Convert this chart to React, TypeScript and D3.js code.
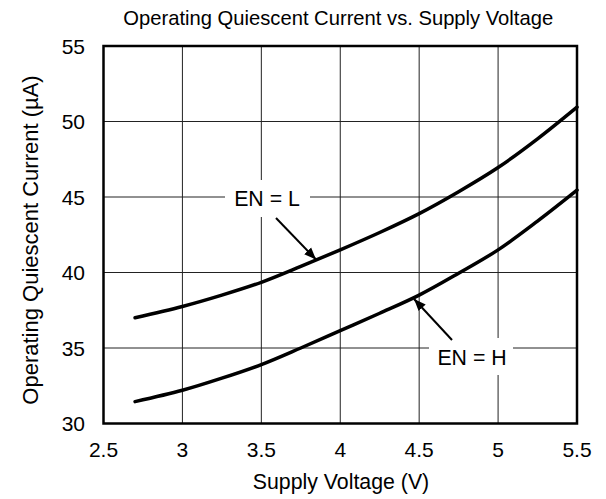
import React from "react";
import * as d3 from "d3";

const voltage = [2.7, 3.0, 3.25, 3.5, 3.75, 4.0, 4.25, 4.5, 4.75, 5.0, 5.25, 5.5];
const enLow = [37.0, 37.75, 38.5, 39.35, 40.4, 41.5, 42.65, 43.9, 45.35, 46.95, 48.85, 50.95];
const enHigh = [31.45, 32.2, 33.0, 33.9, 35.0, 36.15, 37.3, 38.5, 39.95, 41.5, 43.4, 45.45];
const xTicks = [2.5, 3, 3.5, 4, 4.5, 5, 5.5];
const yTicks = [30, 35, 40, 45, 50, 55];

const W = 606, H = 499;
const M = { left: 103.5, right: 29, top: 46, bottom: 75.5 };
const FONT = "Arial, 'Liberation Sans', sans-serif";

export default function App() {
  const x = d3.scaleLinear().domain([2.5, 5.5]).range([M.left, W - M.right]);
  const y = d3.scaleLinear().domain([30, 55]).range([H - M.bottom, M.top]);
  const line = d3.line<number>().x((_, i) => x(voltage[i])).y((d) => y(d)).curve(d3.curveCatmullRom);

  const annotations = [
    { text: "EN = L", tx: 267, ty: 206, box: [225, 180, 85, 37], from: [276, 218], to: [316, 259.5] },
    { text: "EN = H", tx: 472, ty: 365, box: [429, 338, 84, 37], from: [452, 340], to: [414, 299] },
  ];

  return (
    <svg width={W} height={H} style={{ position: "absolute", left: 0, top: 0 }} fontFamily={FONT}>
      <defs>
        <marker id="ah" viewBox="0 0 10 10" refX="10" refY="5" markerWidth="6" markerHeight="6" markerUnits="strokeWidth" orient="auto">
          <path d="M0,1 L10,5 L0,9 Z" fill="#000" />
        </marker>
      </defs>
      <rect width={W} height={H} fill="#fff" />
      <text x={x(4) - 2} y={25} textAnchor="middle" fontSize={20.2}>
        Operating Quiescent Current vs. Supply Voltage
      </text>
      {xTicks.slice(1, -1).map((t) => (
        <line key={"gx" + t} x1={x(t)} x2={x(t)} y1={y(30)} y2={y(55)} stroke="#222" strokeWidth={1} />
      ))}
      {yTicks.slice(1, -1).map((t) => (
        <line key={"gy" + t} x1={x(2.5)} x2={x(5.5)} y1={y(t)} y2={y(t)} stroke="#222" strokeWidth={1} />
      ))}
      {annotations.map((a) => (
        <rect key={"b" + a.text} x={a.box[0]} y={a.box[1]} width={a.box[2]} height={a.box[3]} fill="#fff" />
      ))}
      <path d={line(enLow) || ""} fill="none" stroke="#000" strokeWidth={3.5} strokeLinecap="round" />
      <path d={line(enHigh) || ""} fill="none" stroke="#000" strokeWidth={3.5} strokeLinecap="round" />
      <rect x={x(2.5)} y={y(55)} width={x(5.5) - x(2.5)} height={y(30) - y(55)} fill="none" stroke="#000" strokeWidth={2.5} />
      {annotations.map((a) => (
        <g key={a.text}>
          <text x={a.tx} y={a.ty} textAnchor="middle" fontSize={21.3}>{a.text}</text>
          <line x1={a.from[0]} y1={a.from[1]} x2={a.to[0]} y2={a.to[1]} stroke="#000" strokeWidth={2} markerEnd="url(#ah)" />
        </g>
      ))}
      {yTicks.map((t) => (
        <text key={"ty" + t} x={85} y={y(t)} dy="0.36em" textAnchor="end" fontSize={21}>{t}</text>
      ))}
      {xTicks.map((t) => (
        <text key={"tx" + t} x={x(t)} y={457} textAnchor="middle" fontSize={21}>{t}</text>
      ))}
      <text x={341} y={489} textAnchor="middle" fontSize={21.3}>Supply Voltage (V)</text>
      <text transform="translate(38,240) rotate(-90)" textAnchor="middle" fontSize={22}>
        Operating Quiescent Current (µA)
      </text>
    </svg>
  );
}
